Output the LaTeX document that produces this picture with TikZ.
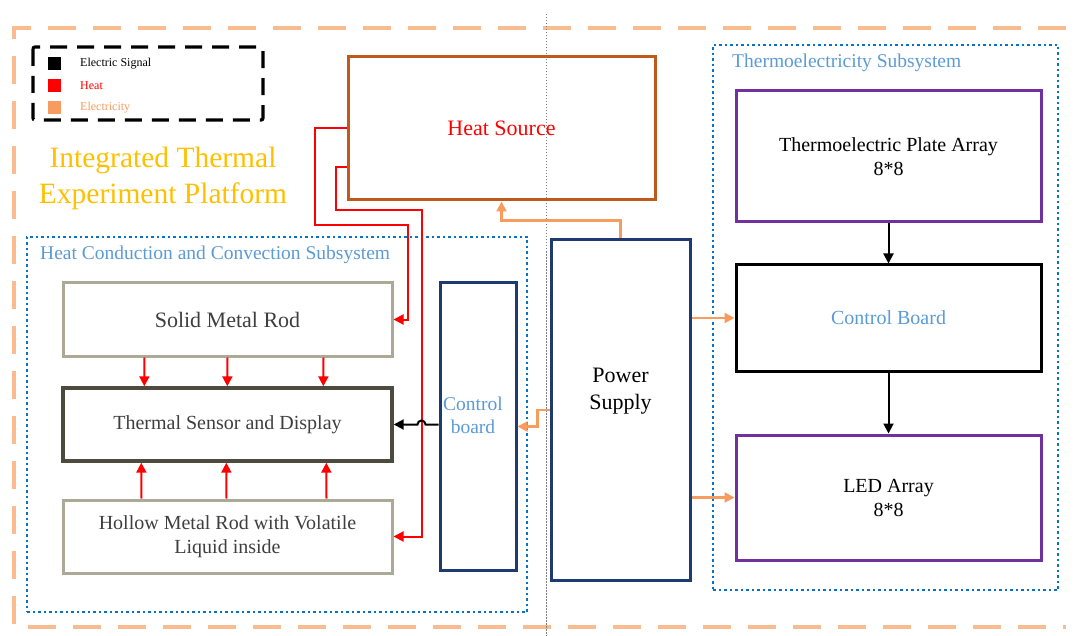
\documentclass[tikz,border=0pt]{standalone}
\usepackage{fontspec}
\setmainfont{Liberation Serif}
\usepackage{xcolor}
\usepackage{tikz}
\usetikzlibrary{arrows.meta,positioning,calc}
\definecolor{frameorange}{HTML}{F9BC90}
\definecolor{elecorange}{HTML}{F79B5E}
\definecolor{subblue}{HTML}{0A72C2}
\definecolor{lblblue}{HTML}{5B9BD5}
\definecolor{heatbrown}{HTML}{C05A1C}
\definecolor{navyline}{HTML}{1F3A70}
\definecolor{tpurple}{HTML}{7030A0}
\definecolor{rodgray}{HTML}{ADA997}
\definecolor{sensorgray}{HTML}{4D4B3E}
\definecolor{titlegold}{HTML}{FFC000}
\definecolor{textgray}{HTML}{3E3E3E}

\begin{document}
\begin{tikzpicture}[
  x=1pt, y=-1pt,
  box/.style={draw, line width=3pt, align=center, inner sep=0pt, font=\fontsize{20}{24}\selectfont},
  rod/.style={box, draw=rodgray, text=textgray, minimum width=329pt, minimum height=73pt},
  tbox/.style={box, minimum width=305pt},
  frame/.style={draw=frameorange, line width=4pt, dash pattern=on 28pt off 17pt},
  subsys/.style={draw=subblue, line width=2.8pt, dash pattern=on 2.5pt off 3pt, inner sep=0pt},
  sublbl/.style={text=lblblue, font=\fontsize{19.5}{23}\selectfont, inner sep=0pt},
  legsq/.style={minimum size=13pt, inner sep=0pt},
  legtxt/.style={anchor=west, font=\fontsize{12}{14}\selectfont, inner sep=0pt},
  heatarr/.style={-{Triangle[length=10pt,width=10pt]}, draw=red, line width=2pt},
  elecarr/.style={-{Triangle[length=10pt,width=10pt]}, draw=elecorange, line width=2.2pt},
  sigarr/.style={-{Triangle[length=10pt,width=10pt]}, draw=black, line width=2pt}
]
  \useasboundingbox (0,0) rectangle (1076,636);

  % platform frame and divider
  \draw[frame] (1066,28) -- (14,28) -- (14,627) -- (1066,627);
  \draw[gray, line width=0.9pt, dash pattern=on 1.5pt off 1.5pt] (546,14) -- (546,636);

  % legend
  \draw[line width=3.2pt, dash pattern=on 17pt off 10pt, rounded corners=2pt] (33,47) rectangle (263,120);
  \node[legsq, fill=black] (sqsig) at (54.5,64) {};
  \node[legsq, fill=red] (sqheat) at (54.5,86) {};
  \node[legsq, fill=elecorange] (sqelec) at (54.5,108) {};
  \node[legtxt] (lsig) at (80,64) {Electric Signal};
  \node[legtxt, text=red] (lheat) at (80,86) {Heat};
  \node[legtxt, text=elecorange] (lelec) at (80,108) {Electricity};

  \node[align=center, text=titlegold, font=\fontsize{29.5}{36}\selectfont] (title) at (163,178) {Integrated Thermal\\Experiment Platform};

  % subsystems
  \node[subsys, minimum width=500pt, minimum height=375pt] (hccs) at (277,424.5) {};
  \node[sublbl, anchor=west] (hccslbl) at (40,255) {Heat Conduction and Convection Subsystem};
  \node[subsys, minimum width=345pt, minimum height=545pt] (tes) at (885.5,317.5) {};
  \node[sublbl, anchor=west] (teslbl) at (732,63) {Thermoelectricity Subsystem};

  % blocks
  \node[box, draw=heatbrown, text=red, minimum width=307pt, minimum height=143pt, font=\fontsize{22}{26}\selectfont] (heat) at (501.5,128.5) {Heat Source};
  \node[rod, font=\fontsize{22}{26}\selectfont] (solid) at (227.5,319.5) {Solid Metal Rod};
  \node[rod, draw=sensorgray, line width=3.4pt] (sensor) at (227.5,424.5) {Thermal Sensor and Display};
  \node[rod] (hollow) at (227.5,536.5) {Hollow Metal Rod with Volatile\\Liquid inside};
  \node[box, draw=navyline, minimum width=76pt, minimum height=287pt] (cbl) at (478,426.5) {};
  \node[text=lblblue, align=center, font=\fontsize{19.5}{23}\selectfont] (cbltxt) at (473,415) {Control\\board};
  \node[box, draw=navyline, minimum width=139pt, minimum height=340pt] (power) at (620.5,410) {};
  \node[align=center, font=\fontsize{22}{27}\selectfont] (powertxt) at (620.5,391) {Power\\Supply};
  \node[tbox, draw=tpurple, minimum height=131pt] (plate) at (888.5,156.5) {Thermoelectric Plate Array\\8*8};
  \node[tbox, draw=black, text=lblblue, minimum height=106pt] (cbr) at (888.5,318) {Control Board};
  \node[tbox, draw=tpurple, minimum height=125pt] (led) at (888.5,497.5) {LED Array\\8*8};

  % heat
  \draw[heatarr] (heat.west) -- ++(-32,0) -- ++(0,96.5) -- ++(93,0) |- (solid.east);
  \draw[heatarr] ($(heat.south west)+(0,-34)$) -- ++(-11,0) -- ++(0,43) -- ++(86,0) |- (hollow.east);
  \foreach \dx in {83,166,262}
    \draw[heatarr] ($(solid.south west)+(\dx,0)$) -- ($(sensor.north west)+(\dx,0)$);
  \foreach \dx in {80,165,265}
    \draw[heatarr] ($(hollow.north west)+(\dx,0)$) -- ($(sensor.south west)+(\dx,0)$);

  % electricity
  \draw[elecarr] (power.north) -- ++(0,-18) -| (heat.south);
  \draw[elecarr] (power.west) -- ++(-12,0) |- (cbl.east);
  \draw[elecarr] (power.east |- cbr.west) -- (cbr.west);
  \draw[elecarr] (power.east |- led.west) -- (led.west);

  % signals
  \draw[sigarr] (cbl.west |- sensor.east) -- ++(-13,0) arc[start angle=0, end angle=-180, radius=4] -- (sensor.east);
  \draw[sigarr] (plate.south) -- (cbr.north);
  \draw[sigarr] (cbr.south) -- (led.north);
\end{tikzpicture}
\end{document}
